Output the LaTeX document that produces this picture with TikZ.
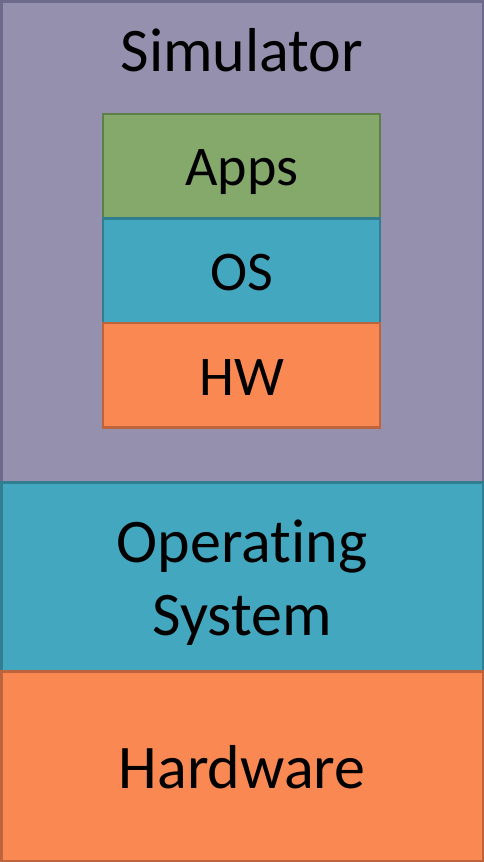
\documentclass[tikz,border=0pt]{standalone}
\usepackage{fontspec}
\setmainfont{Carlito}[Ligatures=NoCommon]
\usetikzlibrary{positioning}
\definecolor{simfill}{RGB}{148,144,174}
\definecolor{simline}{RGB}{110,106,140}
\definecolor{osfill}{RGB}{67,168,191}
\definecolor{osline}{RGB}{49,126,145}
\definecolor{hwfill}{RGB}{249,136,82}
\definecolor{hwline}{RGB}{190,100,60}
\definecolor{appfill}{RGB}{132,169,106}
\definecolor{appline}{RGB}{95,127,74}
\begin{document}
\begin{tikzpicture}[x=1pt,y=-1pt,
  layer/.style={rectangle,line width=2.5pt,inner sep=0pt,outer sep=0pt,anchor=north west},
  big/.style={anchor=base,inner sep=0pt,font=\fontsize{62}{73}\selectfont},
  small/.style={anchor=base,inner sep=0pt,font=\fontsize{56}{66}\selectfont}]
\useasboundingbox (0,0) rectangle (484,862);

\node[layer,fill=simfill,draw=simline,minimum width=481.5pt,minimum height=481pt] (sim) at (1.25,1.25) {};
\node[layer,fill=osfill,draw=osline,minimum width=481.5pt,minimum height=189pt] (os) at (1.25,482.25) {};
\node[layer,fill=hwfill,draw=hwline,minimum width=481.5pt,minimum height=189.5pt] (hw) at (1.25,671.25) {};

\node[layer,fill=appfill,draw=appline,minimum width=277pt,minimum height=104.5pt] (apps) at (103,114) {};
\node[layer,fill=osfill,draw=osline,minimum width=277pt,minimum height=104.5pt,below=0pt of apps] (vos) {};
\node[layer,fill=hwfill,draw=hwline,minimum width=277pt,minimum height=104.5pt,below=0pt of vos] (vhw) {};

\node[big] (simt) at (242,71) {Simulator};
\node[small] (appst) at (242,185) {Apps};
\node[small] (vost) at (242,290) {OS};
\node[small] (vhwt) at (242,395) {HW};
\node[big] (ost1) at (242,562) {Operating};
\node[big] (ost2) at (242,635) {System};
\node[big] (hwt) at (242,788) {Hardware};
\end{tikzpicture}
\end{document}
